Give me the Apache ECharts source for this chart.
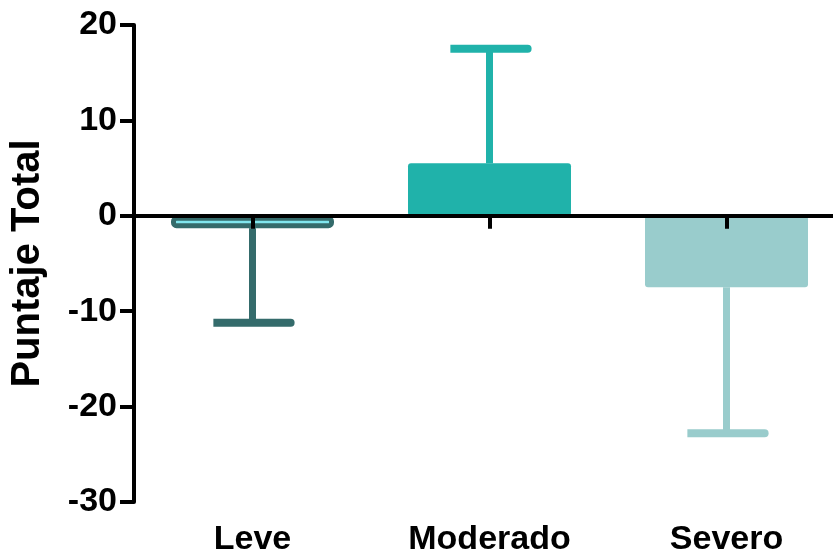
<!DOCTYPE html>
<html>
<head>
<meta charset="utf-8">
<title>Puntaje Total</title>
<script src="https://cdn.jsdelivr.net/npm/echarts@6/dist/echarts.min.js"></script>
<style>
  html, body { margin: 0; padding: 0; background: #ffffff; overflow: hidden; }
  /* the plot's zero line runs past the right edge of the page */
  #chart { width: 845px; height: 557px; }
</style>
</head>
<body>
<div id="chart"></div>
<script>
// Group names, means and one-sided error lengths
const categories = ['Leve', 'Moderado', 'Severo'];
const means = [-1.3, 5.5, -7.5];
const errors = [9.9, 12.0, 15.3];

// Per-group styling
const fillColors = ['#80E6EE', '#20B2AA', '#99CCCC'];
const edgeColors = ['#346B6B', '#20B2AA', '#99CCCC'];

const FONT = '"Liberation Sans", Arial, Helvetica, sans-serif';

const chart = echarts.init(document.getElementById('chart'), null, { renderer: 'canvas' });

// Error bar drawn away from zero: stem from the mean to mean ± error, then a cap
function renderError(params, api) {
  const idx = api.value(0);
  const mean = api.value(1);
  const err = api.value(2);
  const end = mean >= 0 ? mean + err : mean - err;
  const p0 = api.coord([idx, mean]);
  const p1 = api.coord([idx, end]);
  const band = api.size([1, 0])[0];
  const half = band * 0.165;
  const color = edgeColors[idx];
  return {
    type: 'group',
    children: [
      {
        type: 'line',
        shape: { x1: p0[0], y1: p0[1], x2: p1[0], y2: p1[1] },
        style: { stroke: color, lineWidth: 7, lineCap: 'butt' }
      },
      {
        type: 'rect',
        shape: { x: p1[0] - half, y: p1[1] - 4, width: half * 2 + 3, height: 8, r: [0, 4, 4, 0] },
        style: { fill: color }
      }
    ]
  };
}

const option = {
  backgroundColor: '#ffffff',
  animation: false,
  grid: { left: 133, top: 25, right: 0, bottom: 54, containLabel: false },
  xAxis: [
    {
      type: 'category',
      data: categories,
      z: 10,
      axisLine: { onZero: true, lineStyle: { color: '#000000', width: 4 } },
      axisTick: { show: true, alignWithLabel: true, length: 13, lineStyle: { color: '#000000', width: 4 } },
      axisLabel: { show: false },
      splitLine: { show: false }
    },
    {
      type: 'category',
      data: categories,
      position: 'bottom',
      axisLine: { show: false, onZero: false },
      axisTick: { show: false },
      axisLabel: {
        show: true, margin: 21,
        color: '#000000', fontFamily: FONT, fontWeight: 'bold', fontSize: 34
      },
      splitLine: { show: false }
    }
  ],
  yAxis: {
    type: 'value',
    min: -30,
    max: 20,
    interval: 10,
    z: 10,
    name: 'Puntaje Total',
    nameLocation: 'middle',
    nameRotate: 90,
    nameGap: 86,
    nameTextStyle: { color: '#000000', fontFamily: FONT, fontWeight: 'bold', fontSize: 40 },
    axisLine: { show: true, lineStyle: { color: '#000000', width: 4 } },
    axisTick: { show: true, length: 14, lineStyle: { color: '#000000', width: 4 } },
    axisLabel: {
      margin: 17,
      color: '#000000', fontFamily: FONT, fontWeight: 'bold', fontSize: 34
    },
    splitLine: { show: false }
  },
  series: [
    {
      type: 'bar',
      xAxisIndex: 0,
      barWidth: 163,
      data: means.map((v, i) => ({
        value: v,
        itemStyle: {
          color: fillColors[i],
          borderColor: edgeColors[i],
          borderWidth: i === 0 ? 5 : 0,
          borderRadius: 3
        }
      }))
    },
    {
      type: 'custom',
      xAxisIndex: 0,
      renderItem: renderError,
      data: means.map((v, i) => [i, v, errors[i]]),
      z: 3
    }
  ]
};

chart.setOption(option);
</script>
</body>
</html>
